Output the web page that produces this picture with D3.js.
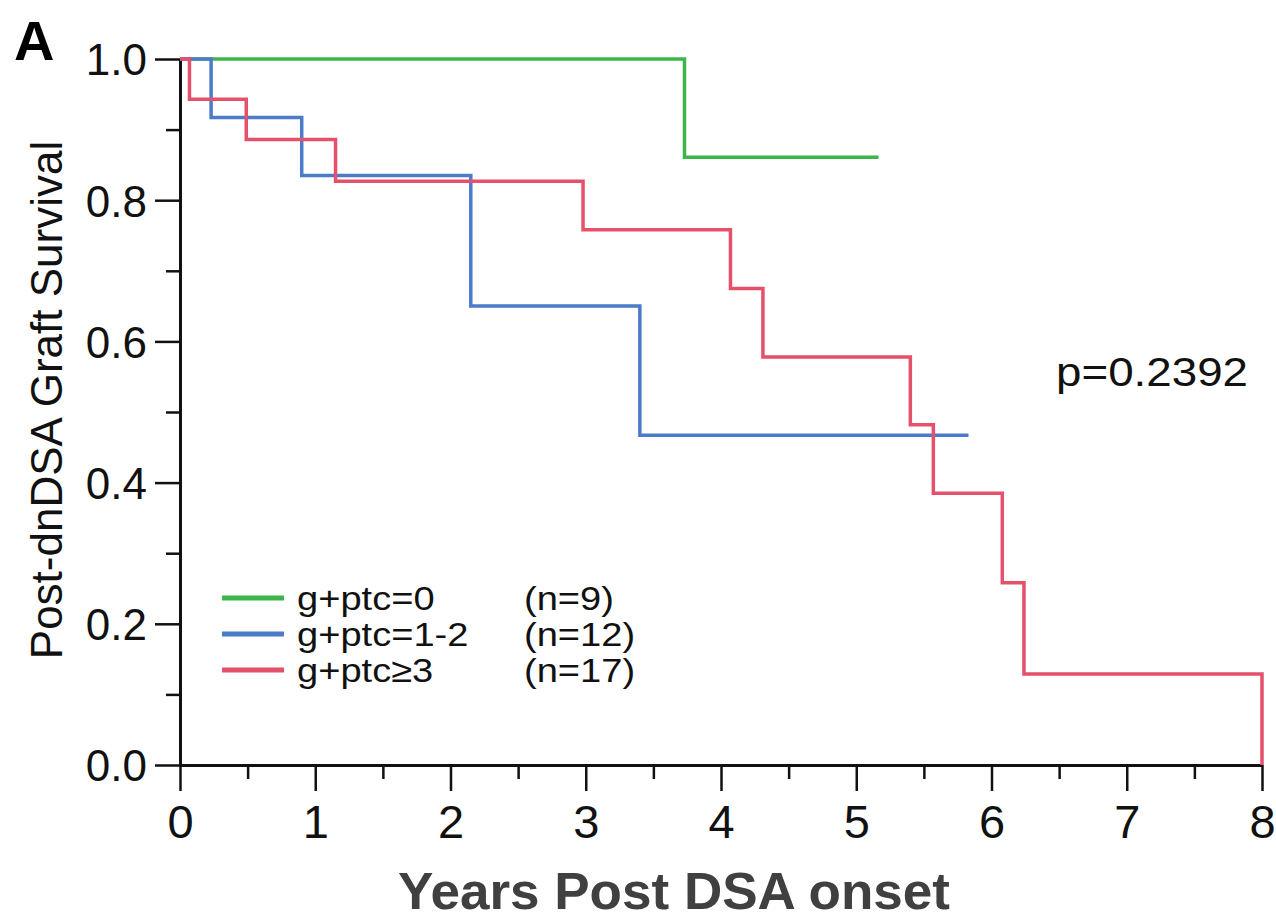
<!DOCTYPE html>
<html>
<head>
<meta charset="utf-8">
<script src="https://cdn.jsdelivr.net/npm/d3@7"></script>
<style>
  body { margin: 0; background: #fff; }
  text { font-family: "Liberation Sans", Arial, Helvetica, sans-serif; }
</style>
</head>
<body>
<div id="chart"></div>
<script>
// Kaplan-Meier step data
const greenTimes = [0, 3.73];
const greenSurv  = [1, 0.861];
const greenEnd   = 5.165;

const blueTimes = [0, 0.23, 0.90, 2.15, 3.40];
const blueSurv  = [1, 0.917, 0.835, 0.650, 0.467];
const blueEnd   = 5.83;

const redTimes = [0, 0.07, 0.49, 1.15, 2.98, 4.07, 4.31, 5.40, 5.57, 6.08, 6.24, 8.0];
const redSurv  = [1, 0.943, 0.886, 0.827, 0.758, 0.675, 0.578, 0.482, 0.385, 0.258, 0.129, 0];
const redEnd   = 8.0;

const legendLabels = ["g+ptc=0", "g+ptc=1-2", "g+ptc\u22653"];
const legendCounts = ["(n=9)", "(n=12)", "(n=17)"];
const seriesColors = ["#3cb54b", "#4a7cca", "#e5506b"];

const xTicks = [0, 1, 2, 3, 4, 5, 6, 7, 8];
const xMinor = [0.5, 1.5, 2.5, 3.5, 4.5, 5.5, 6.5, 7.5];
const yTicks = [0, 0.2, 0.4, 0.6, 0.8, 1.0];
const yMinor = [0.1, 0.3, 0.5, 0.7, 0.9];

const W = 1276, H = 921;

const svg = d3.select("#chart").append("svg")
    .attr("width", W)
    .attr("height", H);

const x = d3.scaleLinear().domain([0, 8]).range([180, 1262]);
const y = d3.scaleLinear().domain([0, 1]).range([765, 59]);

// build step series (add the censoring end point)
function toSteps(times, surv, end) {
    let pts = times.map((t, i) => ({t: t, s: surv[i]}));
    if (end > times[times.length - 1]) pts.push({t: end, s: surv[surv.length - 1]});
    return pts;
}
const series = [
    toSteps(greenTimes, greenSurv, greenEnd),
    toSteps(blueTimes, blueSurv, blueEnd),
    toSteps(redTimes, redSurv, redEnd)
];

// minor ticks first, under the axes
svg.append("g")
    .attr("transform", "translate(0," + y(0) + ")")
    .call(d3.axisBottom(x).tickValues(xMinor).tickSize(14).tickFormat(""))
    .call(g => g.select(".domain").remove())
    .selectAll("line").attr("stroke", "#111").attr("stroke-width", 2.5);

svg.append("g")
    .attr("transform", "translate(" + x(0) + ",0)")
    .call(d3.axisLeft(y).tickValues(yMinor).tickSize(14).tickFormat(""))
    .call(g => g.select(".domain").remove())
    .selectAll("line").attr("stroke", "#111").attr("stroke-width", 2.5);

// X axis
const xAxis = svg.append("g")
    .attr("transform", "translate(0," + y(0) + ")")
    .call(d3.axisBottom(x).tickValues(xTicks).tickSize(26).tickSizeOuter(0).tickPadding(14));
xAxis.select(".domain").attr("stroke", "#111").attr("stroke-width", 3);
xAxis.selectAll(".tick line").attr("stroke", "#111").attr("stroke-width", 2.5);
xAxis.selectAll(".tick text")
    .attr("fill", "#111")
    .style("font-size", "47px")
    .attr("dy", "0.71em");

// Y axis
const yAxis = svg.append("g")
    .attr("transform", "translate(" + x(0) + ",0)")
    .call(d3.axisLeft(y).tickValues(yTicks).tickSize(25).tickSizeOuter(0).tickPadding(8)
        .tickFormat(d3.format(".1f")));
yAxis.select(".domain").attr("stroke", "#111").attr("stroke-width", 3);
yAxis.selectAll(".tick line").attr("stroke", "#111").attr("stroke-width", 2.5);
yAxis.selectAll(".tick text")
    .attr("fill", "#111")
    .style("font-size", "44px")
    .attr("dy", "0.36em");

// survival curves
const line = d3.line()
    .x(d => x(d.t))
    .y(d => y(d.s))
    .curve(d3.curveStepAfter);

svg.selectAll(".km")
    .data(series)
    .enter().append("path")
    .attr("class", "km")
    .attr("d", line)
    .attr("fill", "none")
    .attr("stroke", (d, i) => seriesColors[i])
    .attr("stroke-width", 3.5);

// legend
const legend = svg.append("g").attr("transform", "translate(222,598)");
legendLabels.forEach((lab, i) => {
    let row = legend.append("g").attr("transform", "translate(0," + (i * 36) + ")");
    row.append("line")
        .attr("x1", 0).attr("x2", 62)
        .attr("stroke", seriesColors[i])
        .attr("stroke-width", 5);
    row.append("text")
        .attr("transform", "translate(75,12) scale(1.12,1)")
        .style("font-size", "34px")
        .attr("fill", "#111")
        .text(lab);
    row.append("text")
        .attr("transform", "translate(302,12) scale(1.12,1)")
        .style("font-size", "34px")
        .attr("fill", "#111")
        .text(legendCounts[i]);
});

// p-value
svg.append("text")
    .attr("x", 1056).attr("y", 386)
    .style("font-size", "41px")
    .attr("fill", "#111")
    .attr("textLength", 192)
    .attr("lengthAdjust", "spacingAndGlyphs")
    .text("p=0.2392");

// panel letter
svg.append("text")
    .attr("x", 14).attr("y", 60)
    .style("font-size", "56px")
    .style("font-weight", "bold")
    .attr("fill", "#000")
    .text("A");

// axis titles
svg.append("text")
    .attr("transform", "translate(62,400) rotate(-90)")
    .attr("text-anchor", "middle")
    .style("font-size", "44px")
    .attr("fill", "#111")
    .text("Post-dnDSA Graft Survival");

svg.append("text")
    .attr("x", 674).attr("y", 909)
    .attr("text-anchor", "middle")
    .style("font-size", "52px")
    .style("font-weight", "bold")
    .attr("fill", "#404040")
    .attr("textLength", 552)
    .attr("lengthAdjust", "spacingAndGlyphs")
    .text("Years Post DSA onset");
</script>
</body>
</html>
